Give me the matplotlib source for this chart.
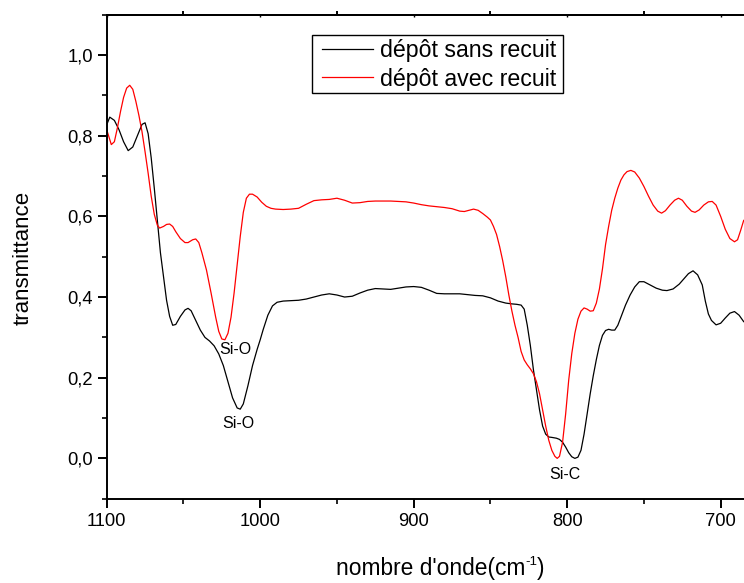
import matplotlib
matplotlib.use("Agg")
import matplotlib.pyplot as plt
from matplotlib.ticker import MultipleLocator, FixedLocator, FuncFormatter
from matplotlib.patches import Rectangle

plt.rcParams['font.family'] = ['Liberation Sans', 'DejaVu Sans']

# ---- data ----
wn_sans = [1100, 1098, 1095, 1092, 1089, 1086, 1083, 1080, 1077, 1075, 1073, 1071, 1069,
           1067, 1065, 1063, 1061, 1059, 1057, 1055, 1052, 1049, 1047, 1045, 1042, 1039,
           1036, 1033, 1030, 1027, 1024, 1021, 1018, 1015, 1013, 1011, 1008, 1005, 1002,
           1000, 998, 995, 992, 989, 985, 980, 975, 970, 965, 960, 955, 950, 945, 940,
           935, 930, 925, 920, 915, 910, 905, 900, 895, 890, 885, 880, 875, 870, 865,
           860, 855, 850, 845, 840, 836, 833, 830, 828, 826, 824, 822, 820, 818, 816,
           814, 812, 810, 807, 805, 803, 801, 799, 797, 795, 793, 791, 789, 787, 785,
           783, 781, 779, 777, 775, 773, 771, 769, 767, 765, 762, 759, 756, 753, 750,
           746, 742, 738, 735, 731, 727, 724, 721, 718, 715, 712, 710, 708, 706, 703,
           700, 697, 694, 691, 688, 685]
tr_sans = [0.827, 0.846, 0.838, 0.815, 0.785, 0.763, 0.772, 0.800, 0.828, 0.832, 0.805, 0.745, 0.670,
           0.590, 0.510, 0.450, 0.392, 0.352, 0.330, 0.332, 0.352, 0.368, 0.372, 0.366, 0.342, 0.318,
           0.300, 0.291, 0.279, 0.259, 0.230, 0.190, 0.150, 0.125, 0.122, 0.135, 0.180, 0.230, 0.270,
           0.294, 0.320, 0.355, 0.378, 0.387, 0.390, 0.391, 0.392, 0.395, 0.400, 0.405, 0.408, 0.405, 0.400, 0.402,
           0.410, 0.417, 0.421, 0.420, 0.419, 0.422, 0.425, 0.426, 0.424, 0.417, 0.409, 0.408, 0.408, 0.408, 0.406,
           0.404, 0.403, 0.398, 0.390, 0.385, 0.383, 0.382, 0.380, 0.370, 0.330, 0.280, 0.220, 0.170, 0.120, 0.080,
           0.060, 0.053, 0.052, 0.050, 0.047, 0.040, 0.028, 0.014, 0.004, 0.000, 0.003, 0.020, 0.060, 0.110, 0.160,
           0.205, 0.245, 0.280, 0.305, 0.317, 0.320, 0.318, 0.318, 0.330, 0.350, 0.380, 0.405, 0.425, 0.438, 0.438,
           0.430, 0.422, 0.417, 0.416, 0.420, 0.432, 0.445, 0.458, 0.465, 0.455, 0.430, 0.390, 0.358, 0.342, 0.331,
           0.335, 0.348, 0.360, 0.364, 0.355, 0.339]

wn_avec = [1100, 1098, 1097, 1095, 1093, 1091, 1089, 1087, 1085, 1083, 1081, 1079, 1077,
           1075, 1073, 1071, 1069, 1067, 1065.5, 1063, 1061, 1059, 1057, 1055, 1052, 1049,
           1047, 1044, 1042, 1040, 1038, 1035, 1032, 1029, 1027, 1025, 1023, 1021, 1019,
           1017, 1015, 1013, 1011, 1009, 1007, 1005, 1002, 999, 996, 993, 990, 985, 980,
           975, 970, 965, 960, 955, 950, 945, 940, 935, 930, 925, 920, 915, 910, 905,
           900, 895, 890, 885, 880, 875, 870, 867, 864, 861, 858, 855, 852, 850, 848,
           846, 844, 842, 840, 838, 836, 834, 832, 830, 828, 826, 824, 822, 820, 818,
           816, 814, 812, 810, 808, 806.5, 805, 803, 801, 799, 797, 795, 793, 791, 789,
           787, 785, 783, 781, 779, 777, 775, 773, 771, 769, 767, 765, 763, 761, 758.5,
           756, 753, 750, 747, 744, 741, 738.5, 736, 733, 730, 727.5, 725, 722, 719,
           716.7, 714, 711, 708, 705.5, 703, 700, 697, 694, 691, 689, 687, 685]
tr_avec = [0.815, 0.790, 0.778, 0.785, 0.820, 0.860, 0.895, 0.918, 0.925, 0.915, 0.885, 0.850, 0.810,
           0.760, 0.707, 0.650, 0.605, 0.578, 0.571, 0.575, 0.580, 0.581, 0.575, 0.562, 0.545, 0.535,
           0.535, 0.542, 0.544, 0.535, 0.510, 0.467, 0.410, 0.350, 0.315, 0.296, 0.294, 0.310, 0.350,
           0.410, 0.480, 0.550, 0.610, 0.645, 0.655, 0.655, 0.648, 0.635, 0.625, 0.620, 0.618, 0.617, 0.618,
           0.620, 0.630, 0.639, 0.641, 0.642, 0.645, 0.640, 0.633, 0.634, 0.637, 0.638, 0.638, 0.638, 0.637, 0.636,
           0.633, 0.629, 0.626, 0.624, 0.622, 0.619, 0.613, 0.612, 0.615, 0.618, 0.615, 0.607, 0.598, 0.591, 0.575,
           0.555, 0.525, 0.490, 0.450, 0.405, 0.365, 0.330, 0.300, 0.265, 0.244, 0.232, 0.222, 0.210, 0.190, 0.160,
           0.120, 0.080, 0.045, 0.020, 0.005, 0.000, 0.005, 0.040, 0.110, 0.194, 0.260, 0.310, 0.345, 0.365, 0.373,
           0.370, 0.365, 0.366, 0.385, 0.420, 0.470, 0.530, 0.575, 0.615, 0.645, 0.670, 0.690, 0.703, 0.711, 0.714,
           0.710, 0.695, 0.674, 0.650, 0.628, 0.613, 0.608, 0.614, 0.628, 0.640, 0.645, 0.640, 0.625, 0.613,
           0.610, 0.616, 0.628, 0.636, 0.637, 0.628, 0.600, 0.568, 0.545, 0.537, 0.542, 0.565, 0.590]

labels = ["dépôt sans recuit", "dépôt avec recuit"]
annotations = [("Si-O", 1016.4, 0.269), ("Si-O", 1014.3, 0.087), ("Si-C", 801.5, -0.039)]
x_major = [1100, 1000, 900, 800, 700]
y_major = [0.0, 0.2, 0.4, 0.6, 0.8, 1.0]

W, H = 744, 583

# ---- figure ----
fig = plt.figure(figsize=(W / 100, H / 100), dpi=100)
ax = fig.add_axes([106.7 / W, 84.3 / H, 1 - 106.7 / W, (498.7 - 14.7) / H])

l1, = ax.plot(wn_sans, tr_sans, color='black', lw=0.9)
l2, = ax.plot(wn_avec, tr_avec, color='red', lw=0.9)

ax.set_xlim(1100, 684.8)
ax.set_ylim(-0.1, 1.1)

ax.xaxis.set_major_locator(FixedLocator(x_major))
ax.xaxis.set_minor_locator(MultipleLocator(50))
ax.yaxis.set_major_locator(FixedLocator(y_major))
ax.yaxis.set_minor_locator(MultipleLocator(0.1))
ax.yaxis.set_major_formatter(FuncFormatter(lambda v, p: f"{v:.1f}".replace('.', ',')))

for s in ['left', 'bottom', 'top']:
    ax.spines[s].set_linewidth(1.4)
ax.spines['right'].set_visible(False)

ax.tick_params(which='major', direction='out', length=6.5, width=1.4, labelsize=13.2, pad=3.5)
ax.tick_params(which='minor', direction='out', length=3.5, width=1.2)
ax.tick_params(top=False, right=False)

sec = ax.secondary_xaxis('top')
sec.set_xticks([1050, 950, 850, 750])
sec.set_xticklabels([])
sec.xaxis.set_minor_locator(FixedLocator(x_major))
sec.tick_params(which='major', direction='out', length=3, width=1.4)
sec.tick_params(which='minor', direction='in', length=1.5, width=1.0)
sec.spines['top'].set_linewidth(1.4)

for txt, xv, yv in annotations:
    ax.text(xv, yv, txt, ha='center', va='center', fontsize=11.5)

# y label
fig.text(23 / W, 1 - 258 / H, "transmittance", rotation=90, ha='center', va='center',
         fontsize=16)

# x label built from pieces so the superscript uses a plain hyphen
renderer = fig.canvas.get_renderer()
base_y = 1 - 575 / H
t1 = fig.text(0, base_y, "nombre d'onde(cm", fontsize=16.4, va='baseline', ha='left')
t2 = fig.text(0, base_y + 10 / H, "-1", fontsize=9.5, va='baseline', ha='left')
t3 = fig.text(0, base_y, ")", fontsize=16.4, va='baseline', ha='left')
w1 = t1.get_window_extent(renderer).width
w2 = t2.get_window_extent(renderer).width
w3 = t3.get_window_extent(renderer).width
total = w1 + w2 + w3
x0 = 440 - total / 2
t1.set_x(x0 / W)
t2.set_x((x0 + w1) / W)
t3.set_x((x0 + w1 + w2) / W)

# legend (frame drawn separately for exact padding)
fs_leg = 16.7
leg = fig.legend([l1, l2], labels, loc='upper left',
                 bbox_to_anchor=(322 / W, 1 - 39.5 / H),
                 fontsize=fs_leg, frameon=False, borderaxespad=0, borderpad=0,
                 labelspacing=0.22, handlelength=2.2, handletextpad=0.3)
fig.patches.append(Rectangle((311.7 / W, 1 - 93 / H), (563 - 311.7) / W, 58 / H,
                             transform=fig.transFigure, fill=False, ec='black', lw=1.0))

fig.savefig("out.png", dpi=100)
